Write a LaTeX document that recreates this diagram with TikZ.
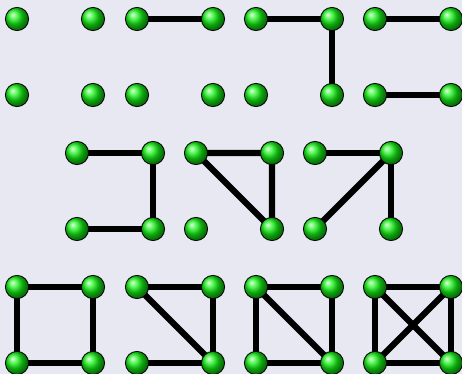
\documentclass[tikz,border=0pt]{standalone}
\usepackage{tikz}
\usepackage{xcolor}
\usetikzlibrary{backgrounds}
\definecolor{cBack}{RGB}{232,232,242}
\definecolor{cBall}{RGB}{20,240,20}
\pgfdeclarelayer{edges}
\pgfsetlayers{background,edges,main}
\tikzset{
	vertex/.style={circle, draw=black, line width=0.6pt, minimum size=0.58cm, inner sep=0pt, shading=ball, ball color=cBall},
	edge/.style  ={line width=4.3pt, draw=black},
}

\begin{document}
\begin{tikzpicture}[x=0.025cm, y=-0.025cm]
	\useasboundingbox (0,0) rectangle (462,374);
	\clip (0,0) rectangle (462,374);
	\begin{pgfonlayer}{background}
		\fill[cBack] (0,0) rectangle (462,374);
	\end{pgfonlayer}
	% four vertices per graph: tl, tr, bl, br
	\foreach \g/\x/\y in {a/17/19, b/137/19, c/256/19, d/375/19,
			e/77/153, f/196/153, g/315/153,
			h/17/287, i/137/287, j/256/287, k/375/287} {
		\node[vertex] (\g-tl) at (\x,\y) {};
		\node[vertex] (\g-tr) at (\x+76,\y) {};
		\node[vertex] (\g-bl) at (\x,\y+76) {};
		\node[vertex] (\g-br) at (\x+76,\y+76) {};
	}
	\begin{pgfonlayer}{edges}
		% row 1
		\draw[edge] (b-tl.center) -- (b-tr.center);
		\draw[edge] (c-tl.center) -- (c-tr.center) -- (c-br.center);
		\draw[edge] (d-tl.center) -- (d-tr.center);
		\draw[edge] (d-bl.center) -- (d-br.center);
		% row 2
		\draw[edge] (e-tl.center) -- (e-tr.center) -- (e-br.center) -- (e-bl.center);
		\draw[edge] (f-tl.center) -- (f-tr.center) -- (f-br.center) -- (f-tl.center);
		\draw[edge] (g-tl.center) -- (g-tr.center) -- (g-br.center);
		\draw[edge] (g-tr.center) -- (g-bl.center);
		% row 3
		\draw[edge] (h-tl.center) -- (h-tr.center) -- (h-br.center) -- (h-bl.center) -- cycle;
		\draw[edge] (i-tl.center) -- (i-tr.center) -- (i-br.center) -- (i-bl.center);
		\draw[edge] (i-tl.center) -- (i-br.center);
		\draw[edge] (j-tl.center) -- (j-tr.center) -- (j-br.center) -- (j-bl.center) -- cycle;
		\draw[edge] (j-tl.center) -- (j-br.center);
		\draw[edge] (k-tl.center) -- (k-tr.center) -- (k-br.center) -- (k-bl.center) -- cycle;
		\draw[edge] (k-tl.center) -- (k-br.center);
		\draw[edge] (k-tr.center) -- (k-bl.center);
	\end{pgfonlayer}
\end{tikzpicture}
\end{document}
